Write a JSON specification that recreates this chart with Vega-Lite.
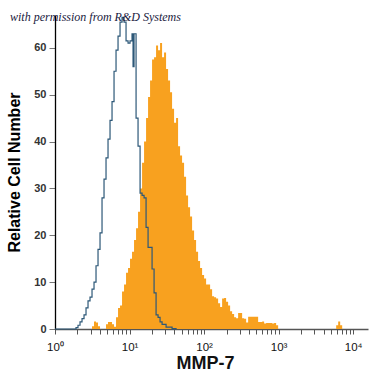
{
  "$schema": "https://vega.github.io/schema/vega-lite/v6.json",
  "width": 313,
  "height": 314,
  "autosize": "none",
  "padding": {"left": 55, "top": 15, "right": 7, "bottom": 46},
  "background": "white",
  "config": {"view": {"stroke": null}, "font": "Liberation Sans"},
  "title": {
    "text": "with permission from R&D Systems",
    "anchor": "start",
    "frame": "group",
    "font": "Liberation Serif",
    "fontStyle": "italic",
    "fontWeight": "normal",
    "fontSize": 12,
    "color": "#1a1a40",
    "baseline": "alphabetic",
    "dx": -45,
    "offset": -18
  },
  "datasets": {
    "control": [
      {"fl": 1, "count": 0}, {"fl": 1.913, "count": 0.3}, {"fl": 2.035, "count": 0.8}, {"fl": 2.166, "count": 1.5},
      {"fl": 2.304, "count": 2.2}, {"fl": 2.451, "count": 3}, {"fl": 2.607, "count": 4.5}, {"fl": 2.773, "count": 6},
      {"fl": 2.95, "count": 6.8}, {"fl": 3.138, "count": 8.5}, {"fl": 3.338, "count": 10}, {"fl": 3.55, "count": 13.5},
      {"fl": 3.777, "count": 17}, {"fl": 4.018, "count": 20.5}, {"fl": 4.274, "count": 28}, {"fl": 4.546, "count": 32},
      {"fl": 4.836, "count": 36.5}, {"fl": 5.144, "count": 40.5}, {"fl": 5.473, "count": 44.5}, {"fl": 5.822, "count": 48.5},
      {"fl": 6.193, "count": 55}, {"fl": 6.588, "count": 59.5}, {"fl": 7.008, "count": 62.5}, {"fl": 7.455, "count": 65.5},
      {"fl": 7.931, "count": 66.5}, {"fl": 8.437, "count": 65.5}, {"fl": 8.974, "count": 61.5}, {"fl": 9.548, "count": 61},
      {"fl": 10.15, "count": 61.5}, {"fl": 10.8, "count": 63}, {"fl": 11.14, "count": 56}, {"fl": 11.49, "count": 63},
      {"fl": 12.23, "count": 45}, {"fl": 13.0, "count": 39}, {"fl": 13.84, "count": 29}, {"fl": 14.72, "count": 28.5},
      {"fl": 15.66, "count": 28}, {"fl": 16.66, "count": 21.7}, {"fl": 17.72, "count": 17.4}, {"fl": 20.05, "count": 12.8},
      {"fl": 21.33, "count": 7.7}, {"fl": 22.69, "count": 3}, {"fl": 24.13, "count": 2.5}, {"fl": 25.67, "count": 1.5},
      {"fl": 27.31, "count": 1}, {"fl": 30.9, "count": 0.4}, {"fl": 37.2, "count": 0.1}, {"fl": 42.09, "count": 0}
    ],
    "mmp7": [
      {"fl": 1, "count": 0}, {"fl": 3.138, "count": 0.6}, {"fl": 3.338, "count": 1.6}, {"fl": 3.55, "count": 1.4},
      {"fl": 3.777, "count": 0.6}, {"fl": 4.018, "count": 0}, {"fl": 4.836, "count": 1.0}, {"fl": 5.144, "count": 1.5},
      {"fl": 5.473, "count": 1.5}, {"fl": 5.822, "count": 1.0}, {"fl": 6.193, "count": 0.5}, {"fl": 6.588, "count": 2.5},
      {"fl": 7.008, "count": 4.5}, {"fl": 7.455, "count": 5}, {"fl": 7.931, "count": 8}, {"fl": 8.437, "count": 9.5},
      {"fl": 8.974, "count": 12}, {"fl": 9.548, "count": 13}, {"fl": 10.15, "count": 15}, {"fl": 10.8, "count": 16.5},
      {"fl": 11.49, "count": 19}, {"fl": 12.23, "count": 21.5}, {"fl": 13.0, "count": 25}, {"fl": 13.84, "count": 30},
      {"fl": 14.72, "count": 35.5}, {"fl": 15.66, "count": 40}, {"fl": 16.66, "count": 45}, {"fl": 17.72, "count": 49.5},
      {"fl": 18.85, "count": 53}, {"fl": 20.05, "count": 57.5}, {"fl": 21.33, "count": 58}, {"fl": 22.69, "count": 60.5},
      {"fl": 24.13, "count": 59.5}, {"fl": 25.67, "count": 61}, {"fl": 27.31, "count": 58}, {"fl": 29.05, "count": 59},
      {"fl": 30.9, "count": 55.5}, {"fl": 32.87, "count": 53}, {"fl": 34.97, "count": 50.5}, {"fl": 37.2, "count": 47},
      {"fl": 39.57, "count": 44}, {"fl": 42.09, "count": 45}, {"fl": 44.77, "count": 39}, {"fl": 47.63, "count": 37},
      {"fl": 50.66, "count": 35.5}, {"fl": 53.89, "count": 32.5}, {"fl": 57.33, "count": 28.5}, {"fl": 60.98, "count": 26},
      {"fl": 64.87, "count": 24}, {"fl": 69.01, "count": 21}, {"fl": 73.41, "count": 19}, {"fl": 78.09, "count": 16.5},
      {"fl": 83.07, "count": 14.5}, {"fl": 88.37, "count": 13}, {"fl": 94.01, "count": 11.5}, {"fl": 100, "count": 10.8},
      {"fl": 106.4, "count": 9.5}, {"fl": 113.2, "count": 9.5}, {"fl": 120.4, "count": 8.5}, {"fl": 128.1, "count": 7},
      {"fl": 136.2, "count": 6.8}, {"fl": 144.9, "count": 6.5}, {"fl": 154.2, "count": 5.5}, {"fl": 164, "count": 4.7},
      {"fl": 174.5, "count": 6.5}, {"fl": 185.6, "count": 6.6}, {"fl": 197.4, "count": 5.8}, {"fl": 210, "count": 5},
      {"fl": 223.4, "count": 3.8}, {"fl": 237.7, "count": 3.2}, {"fl": 252.8, "count": 2.5}, {"fl": 268.9, "count": 2.3},
      {"fl": 286.1, "count": 3.4}, {"fl": 304.3, "count": 3.4}, {"fl": 323.7, "count": 2.3}, {"fl": 344.4, "count": 2.2},
      {"fl": 366.3, "count": 1.4}, {"fl": 389.7, "count": 2.6}, {"fl": 414.5, "count": 2.6}, {"fl": 440.9, "count": 2.6},
      {"fl": 469, "count": 2.6}, {"fl": 498.9, "count": 2.6}, {"fl": 530.7, "count": 1.5}, {"fl": 564.5, "count": 1.5},
      {"fl": 600.5, "count": 1.6}, {"fl": 638.8, "count": 1.2}, {"fl": 679.5, "count": 1.3}, {"fl": 722.8, "count": 1.3},
      {"fl": 768.9, "count": 1.3}, {"fl": 817.9, "count": 1.2}, {"fl": 870, "count": 1.3}, {"fl": 925.6, "count": 0.8},
      {"fl": 984.7, "count": 0}, {"fl": 5559, "count": 0}, {"fl": 5913, "count": 0.8}, {"fl": 6291, "count": 1.6},
      {"fl": 6691, "count": 0.8}, {"fl": 7117, "count": 0}, {"fl": 15800, "count": 0}
    ]
  },
  "encoding": {
    "x": {
      "field": "fl",
      "type": "quantitative",
      "title": "MMP-7",
      "scale": {"type": "log", "domain": [1, 15800], "nice": false},
      "axis": {
        "values": [1,2,3,4,5,6,7,8,9,10,20,30,40,50,60,70,80,90,100,200,300,400,500,600,700,800,900,1000,2000,3000,4000,5000,6000,7000,8000,9000,10000],
        "labelExpr": "datum.value == 1 ? '10⁰' : datum.value == 10 ? '10¹' : datum.value == 100 ? '10²' : datum.value == 1000 ? '10³' : datum.value == 10000 ? '10⁴' : ''",
        "grid": false,
        "domainColor": "#555555",
        "domainWidth": 1.5,
        "tickColor": "#555555",
        "tickSize": 5,
        "labelFont": "Liberation Sans",
        "labelFontSize": 11.5,
        "labelColor": "#111111",
        "labelPadding": 7,
        "labelFlush": false,
        "labelOverlap": false,
        "titleFont": "Liberation Sans",
        "titleFontSize": 18,
        "titleFontWeight": "bold",
        "titleColor": "#111111",
        "titleX": 150,
        "titleY": 39,
        "titleBaseline": "alphabetic"
      }
    },
    "y": {
      "field": "count",
      "type": "quantitative",
      "title": "Relative Cell Number",
      "scale": {"domain": [0, 67], "nice": false},
      "axis": {
        "values": [0, 10, 20, 30, 40, 50, 60],
        "grid": false,
        "domainColor": "#000000",
        "domainWidth": 1.3,
        "tickColor": "#777777",
        "tickSize": 6,
        "labelFont": "Liberation Sans",
        "labelFontSize": 11,
        "labelFontWeight": "bold",
        "labelColor": "#333333",
        "labelPadding": 3,
        "titleFont": "Liberation Sans",
        "titleFontSize": 16,
        "titleFontWeight": "bold",
        "titleColor": "#000000",
        "titlePadding": 11
      }
    }
  },
  "layer": [
    {
      "data": {"name": "mmp7"},
      "mark": {"type": "area", "interpolate": "step-after", "color": "#f8a11f", "opacity": 1}
    },
    {
      "data": {"name": "control"},
      "mark": {"type": "line", "interpolate": "step-after", "color": "#2d5878", "strokeWidth": 1.2}
    }
  ]
}
